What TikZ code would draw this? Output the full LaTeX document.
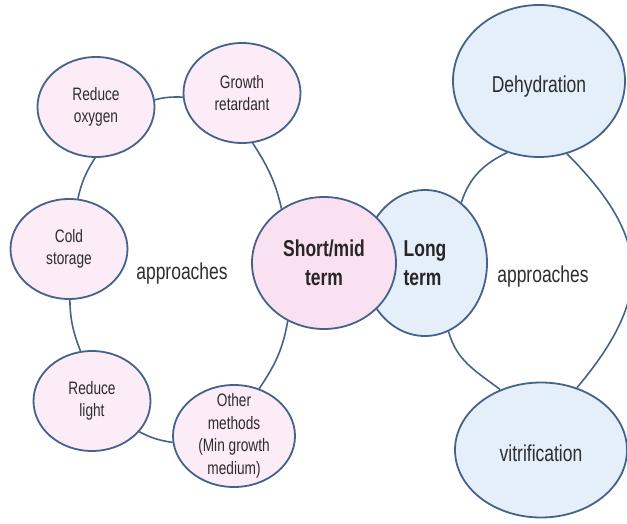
\documentclass[tikz,border=0pt]{standalone}
\usepackage{fontspec}
\setmainfont{Liberation Sans}[FakeStretch=0.76]
\usetikzlibrary{shapes.geometric}

\definecolor{rimblue}{RGB}{68,98,138}
\definecolor{pinkfill}{RGB}{251,236,247}
\definecolor{midpink}{RGB}{249,225,241}
\definecolor{bluefill}{RGB}{229,239,250}
\definecolor{inkgray}{RGB}{45,45,45}

\tikzset{
    bubble/.style={ellipse, draw=rimblue, line width=1.8pt, inner sep=0pt, align=center, text=inkgray},
    pinkbubble/.style={bubble, fill=pinkfill, font=\fontsize{18}{22.5}\selectfont},
    bluebubble/.style={bubble, fill=bluefill, text height=27.5pt, text depth=4.8pt, font=\fontsize{23}{28}\selectfont},
    termbubble/.style={bubble, text=black!85, font=\fontsize{23}{29}\selectfont\bfseries},
    approach/.style={text=inkgray, font=\fontsize{23}{28}\selectfont},
    link/.style={draw=rimblue, line width=1.6pt}
}

\begin{document}
\begin{tikzpicture}[x=1pt, y=1pt]
    \useasboundingbox (0,0) rectangle (627,523);

    % the two terms
    \node[termbubble, fill=bluefill, align=left, minimum width=124pt, minimum height=146pt] (long) at (425,260) {Long\\term};
    \node[termbubble, fill=midpink, minimum width=144pt, minimum height=132pt] (short) at (324,260) {Short/mid\\term};

    % short/mid term approaches
    \foreach \name/\x/\y/\txt in {oxygen/96/416/{Reduce\\oxygen}, retard/242/430/{Growth\\retardant},
                                  cold/69/274/{Cold\\storage}, light/92/122/{Reduce\\light}} {
        \node[pinkbubble, minimum width=117pt, minimum height=100pt] (\name) at (\x,\y) {\txt};
    }
    \node[pinkbubble, inner ysep=-8pt, minimum width=122pt, minimum height=102pt] (other) at (234,87) {Other\\methods\\(Min growth\\medium)};

    % long term approaches
    \node[bluebubble, minimum width=172pt, minimum height=152pt] (dehyd) at (539,442) {Dehydration};
    \node[bluebubble, minimum width=172pt, minimum height=135pt] (vitri) at (541,73) {vitrification};

    \node[approach] (leftapp) at (182,249) {approaches};
    \node[approach] (rightapp) at (543,246) {approaches};

    % left ring
    \draw[link] (oxygen.7) to[out=14, in=178] (retard.184);
    \draw[link] (retard.-78) to[out=-57, in=103] (short.128);
    \draw[link] (short.238) to[out=260, in=56] (other.62);
    \draw[link] (other.186) to[out=171, in=-28] (light.327);
    \draw[link] (light.103) to[out=111, in=-89] (cold.271);
    \draw[link] (cold.80) to[out=77, in=237] (oxygen.269);

    % right ring
    \draw[link] (long.59) to[out=72, in=206] (dehyd.246);
    \draw[link] (dehyd.291) to[out=-45, in=50, looseness=1.3] (vitri.60);
    \draw[link] (vitri.124) to[out=143, in=-75] (long.289);
\end{tikzpicture}
\end{document}
